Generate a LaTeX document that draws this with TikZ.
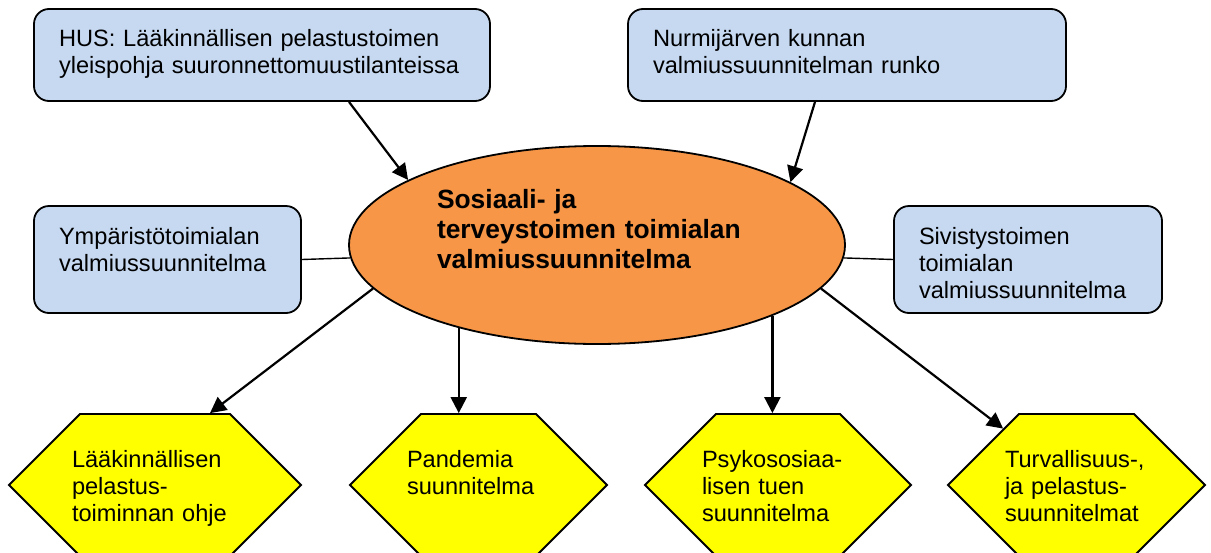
\documentclass[tikz,border=0pt]{standalone}
\usepackage{fontspec}
\setmainfont{Liberation Sans}
\usepackage{tikz}
\usetikzlibrary{arrows.meta}
\usetikzlibrary{calc}
\usetikzlibrary{shapes.geometric}
\usetikzlibrary{shapes.symbols}

\definecolor{planblue}{HTML}{C6D9F1}
\definecolor{planorange}{HTML}{F79646}
\definecolor{planyellow}{HTML}{FFFF00}

\begin{document}
\begin{tikzpicture}[x=0.5pt,y=-0.5pt,
    plan/.style={draw,rectangle,rounded corners=7.5pt,fill=planblue,line width=0.9pt,
      inner xsep=12.5pt,inner ysep=0pt,align=left,text height=18.5pt,
      font=\fontsize{11.8pt}{13.5pt}\selectfont},
    main/.style={draw,ellipse,fill=planorange,line width=0.9pt,inner sep=0pt,
      minimum width=248pt,minimum height=99pt,text width=160pt,align=left,
      text height=10pt,text depth=47pt,font=\fontsize{13.2pt}{15.2pt}\selectfont\bfseries},
    guide/.style={draw,signal,signal to=east and west,fill=planyellow,line width=0.9pt,
      inner xsep=-7pt,inner ysep=0pt,align=left,text height=26.5pt,text depth=44.5pt,
      font=\fontsize{11.8pt}{13.5pt}\selectfont}]

  \path [use as bounding box,clip] (0,0) rectangle (1211,552);

  \node [plan,text width=203pt,text depth=27.5pt] (hus) at (262,55)
    {HUS: Lääkinnällisen pelastustoimen\\ yleispohja suuronnettomuustilanteissa};
  \node [plan,text width=194pt,text depth=27.5pt] (nurmi) at (847,55)
    {Nurmijärven kunnan\\ valmiussuunnitelman runko};
  \node [plan,text width=108.5pt,text height=19pt,text depth=34.5pt] (ymp) at (167.5,259.5)
    {Ympäristötoimialan\\ valmiussuunnitelma};
  \node [plan,text width=109pt,text height=19pt,text depth=34.5pt] (siv) at (1028,259.5)
    {Sivistystoimen\\ toimialan\\ valmiussuunnitelma};

  \node [main] (sote) at (597,245)
    {Sosiaali- ja\\ terveystoimen toimialan\\ valmiussuunnitelma};

  \node [guide,text width=83pt,inner xsep=-4pt] (ohje) at (155,485)
    {Lääkinnällisen\\ pelastus-\\ toiminnan ohje};
  \node [guide,text width=71.5pt] (pandemia) at (478.5,485)
    {Pandemia\\ suunnitelma};
  \node [guide,text width=76pt] (psyko) at (778,485)
    {Psykososiaa-\\ lisen tuen\\ suunnitelma};
  \node [guide,text width=71.5pt] (turva) at (1076.5,485)
    {Turvallisuus-,\\ ja pelastus-\\ suunnitelmat};

  \path [line width=1.1pt,->,>={Triangle[length=8pt,width=8pt]}]
    ($(hus.south)+(87,0)$)    edge (sote.161)
    ($(nurmi.south)+(-32,0)$) edge (sote.18)
    (sote.191) edge ($(ohje.north)+(55,0)$)
    (sote.211) edge (sote.211 |- pandemia.north)
    (sote.338) edge (sote.338 |- psyko.north)
    (sote.349) edge (turva);

  \path [line width=0.7pt]
    (ymp.east) edge (sote.183)
    (siv.west) edge (sote.357);
\end{tikzpicture}
\end{document}
